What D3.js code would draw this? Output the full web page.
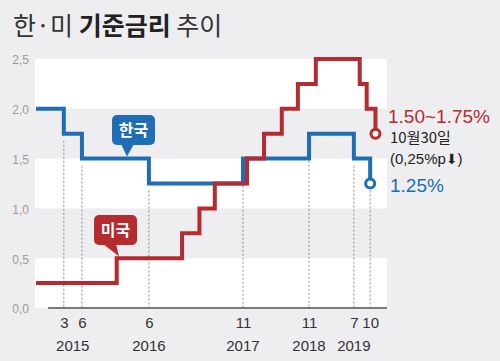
<!DOCTYPE html>
<html>
<head>
<meta charset="utf-8">
<script src="https://cdn.jsdelivr.net/npm/d3@7"></script>
<style>
  html, body { margin: 0; padding: 0; background: #eeeef0; }
  svg { display: block; }
  text { font-family: "Liberation Sans", Arial, sans-serif; }
  .kr { font-family: "Noto Sans CJK KR", "Noto Sans", sans-serif; }
</style>
</head>
<body>
<svg id="chart" width="500" height="361"></svg>
<script>
// ---- data ----
const koreaDates  = ["2014-10-01","2015-03-02","2015-06-09","2016-06-09","2017-11-05","2018-11-01","2019-07-04","2019-10-01"];
const koreaRates  = [2.00, 1.75, 1.50, 1.25, 1.50, 1.75, 1.50, 1.25];
const usDates     = ["2014-10-01","2015-12-16","2016-12-07","2017-03-12","2017-06-04","2017-11-27","2018-02-28","2018-06-05","2018-09-01","2018-12-08","2019-08-05","2019-09-12","2019-10-30"];
const usRates     = [0.25, 0.50, 0.75, 1.00, 1.25, 1.50, 1.75, 2.00, 2.25, 2.50, 2.25, 2.00, 1.75];
const markDates   = ["2015-03-02","2015-06-09","2016-06-09","2017-11-05","2018-11-01","2019-07-04","2019-10-01"];
const markLabels  = ["3","6","6","11","11","7","10"];
const markFloor   = [1.75, 1.50, 1.25, 1.50, 1.75, 1.50, 1.25]; // Korea level below which the guide starts
const yearLabels  = ["2015","2016","2017","2018","2019"];
const yearDates   = ["2015-04-20","2016-06-09","2017-11-05","2018-11-01","2019-07-04"];
const yTicks      = [0, 0.5, 1.0, 1.5, 2.0, 2.5];

const parse = d3.timeParse("%Y-%m-%d");
const korea = koreaDates.map((d,i)=>({date: parse(d), v: koreaRates[i]}));
const us    = usDates.map((d,i)=>({date: parse(d), v: usRates[i]}));

const RED = "#b52b2f", BLUE = "#1f6db5";

const svg = d3.select("#chart");
const x = d3.scaleTime().domain([parse("2014-10-01"), parse("2020-01-01")]).range([36, 387]);
const y = d3.scaleLinear().domain([0, 2.5]).range([308, 59]);

// title
const title = svg.append("text").attr("class","kr").attr("x",13).attr("y",35)
  .attr("font-size",25).attr("fill","#333");
title.append("tspan").attr("font-weight",400).text("한·미 ");
title.append("tspan").attr("font-weight",700).attr("fill","#222").text("기준금리");
title.append("tspan").attr("font-weight",400).text(" 추이");

// bands
const bands = [[2.0,2.5],[1.0,1.5],[0,0.5]];
svg.append("g").selectAll("rect").data(bands).join("rect")
  .attr("x", 35).attr("width", 387-35)
  .attr("y", d=>y(d[1])).attr("height", d=>y(d[0])-y(d[1]))
  .attr("fill","#ffffff");

// y axis
const yAxis = d3.axisLeft(y).tickValues(yTicks).tickSize(0).tickPadding(0)
  .tickFormat(d=>d3.format(".1f")(d).replace(".", ","));
const gy = svg.append("g").attr("transform","translate(29,1)").call(yAxis);
gy.select(".domain").remove();
gy.selectAll("text").attr("fill","#9a9a9e").attr("font-size",12).attr("font-family","Liberation Sans, Arial, sans-serif");

// dashed guides
svg.append("g").selectAll("line").data(markDates).join("line")
  .attr("x1", d=>x(parse(d))).attr("x2", d=>x(parse(d)))
  .attr("y1", (d,i)=>y(markFloor[i])+7).attr("y2", 308)
  .attr("stroke","#8a8a8a").attr("stroke-width",1).attr("stroke-dasharray","2,2");

// baseline
svg.append("line").attr("x1",48).attr("x2",387).attr("y1",308).attr("y2",308)
  .attr("stroke","#7a7a7a").attr("stroke-width",2);

// x axis month labels
const xAxis = d3.axisBottom(x).tickValues(markDates.map(parse)).tickSize(0).tickPadding(0)
  .tickFormat((d,i)=>markLabels[i]);
const gx = svg.append("g").attr("transform","translate(0,317)").call(xAxis);
gx.select(".domain").remove();
gx.selectAll("text").attr("fill","#333").attr("font-size",15).attr("font-family","Liberation Sans, Arial, sans-serif");

// year labels
svg.append("g").selectAll("text").data(yearLabels).join("text")
  .attr("x",(d,i)=>x(parse(yearDates[i]))).attr("y",351)
  .attr("text-anchor","middle").attr("font-size",15).attr("fill","#333").text(d=>d);

// lines
const line = d3.line().x(d=>x(d.date)).y(d=>y(d.v)).curve(d3.curveStepAfter);
svg.append("path").datum(korea).attr("d",line).attr("fill","none")
  .attr("stroke",BLUE).attr("stroke-width",4).attr("stroke-linejoin","miter");
svg.append("path").datum(us).attr("d",line).attr("fill","none")
  .attr("stroke",RED).attr("stroke-width",4).attr("stroke-linejoin","miter");

// end circles
[[korea, BLUE],[us, RED]].forEach(([s,c])=>{
  const last = s[s.length-1];
  svg.append("circle").attr("cx",x(last.date)).attr("cy",y(last.v)).attr("r",4.5)
    .attr("fill","#fff").attr("stroke",c).attr("stroke-width",3);
});

// callouts
function callout(label, color, bx, by, tipX, tipY) {
  const w = 43, h = 30;
  const g = svg.append("g");
  g.append("rect").attr("x",bx).attr("y",by).attr("width",w).attr("height",h).attr("rx",5).attr("fill",color);
  g.append("path").attr("d",`M${bx+9},${by+h-1} L${bx+22},${by+h-1} L${tipX},${tipY} Z`).attr("fill",color);
  g.append("text").attr("class","kr").attr("x",bx+w/2).attr("y",by+h/2+5.5)
    .attr("text-anchor","middle").attr("font-size",16).attr("font-weight",700).attr("fill","#fff").text(label);
}
callout("한국", BLUE, 112, 115, 127, y(1.5)-2);
callout("미국", RED, 94, 215, 119, y(0.5)-2);

// right annotations
const usLast = us[us.length-1], krLast = korea[korea.length-1];
svg.append("text").attr("x",388).attr("y",y(usLast.v)-11).attr("font-size",19).attr("fill",RED).text("1.50~1.75%");
svg.append("text").attr("class","kr").attr("x",390).attr("y",y(usLast.v)+9).attr("font-size",15).attr("fill","#222").text("10월30일");
const t2 = svg.append("text").attr("x",390).attr("y",y(usLast.v)+30).attr("font-size",15).attr("fill","#222");
t2.append("tspan").text("(0,25%p");
t2.append("tspan").attr("font-family","DejaVu Sans").attr("font-size",14).text("⬇");
t2.append("tspan").text(")");
svg.append("text").attr("x",390).attr("y",y(krLast.v)+8).attr("font-size",19).attr("fill",BLUE).text("1.25%");
</script>
</body>
</html>
